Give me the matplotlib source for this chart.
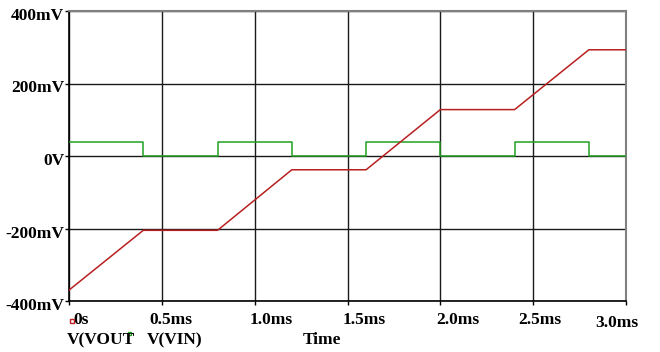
import matplotlib
matplotlib.use("Agg")
import matplotlib.pyplot as plt
from matplotlib.transforms import ScaledTranslation

# Data (time in ms, voltages in mV)
t_vout = [0.0, 0.4, 0.8, 1.2, 1.6, 2.0, 2.4, 2.8, 3.0]
v_vout = [-370, -205, -205, -38, -38, 128, 128, 293, 293]

t_vin = [0.0, 0.4, 0.4, 0.8, 0.8, 1.2, 1.2, 1.6, 1.6, 2.0, 2.0, 2.4, 2.4, 2.8, 2.8, 3.0]
v_vin = [40, 40, 0, 0, 40, 40, 0, 0, 40, 40, 0, 0, 40, 40, 0, 0]

xticks = [0, 0.5, 1.0, 1.5, 2.0, 2.5, 3.0]
xlabels = ["0s", "0.5ms", "1.0ms", "1.5ms", "2.0ms", "2.5ms", "3.0ms"]
yticks = [-400, -200, 0, 200, 400]
ylabels = ["-400mV", "-200mV", "0V", "200mV", "400mV"]

W, H = 660, 352
fig = plt.figure(figsize=(W / 100, H / 100), dpi=100)
ax = fig.add_axes([69 / W, 1 - 301 / H, (626 - 69) / W, (301 - 11) / H])

font = dict(family="Liberation Serif", weight="bold", size=12.5)

ax.plot(t_vin, v_vin, color="#22a022", lw=1.1, zorder=3)
ax.plot(t_vout, v_vout, color="#b82020", lw=1.1, zorder=4)

ax.set_xlim(0, 3.0)
ax.set_ylim(-400, 400)
ax.set_xticks(xticks)
ax.set_xticklabels(xlabels, **font)
ax.set_yticks(yticks)
ax.set_yticklabels(ylabels, **font)
ax.grid(True, color="#1a1a1a", lw=1.0)
ax.set_axisbelow(True)
ax.tick_params(axis="both", direction="out", length=3, width=1, color="black", pad=2)
ax.tick_params(axis="y", pad=0.5)

for side in ["top", "right"]:
    ax.spines[side].set_color("#808080")
    ax.spines[side].set_linewidth(1.5)
for side in ["left", "bottom"]:
    ax.spines[side].set_color("black")
    ax.spines[side].set_linewidth(1.2)

# x tick label offsets (px)
dxs = [12, 9, 16, 17, 17, 7, -9]
dys = [-4, -4, -4, -4, -4, -4, -7]
for lab, dx, dy in zip(ax.get_xticklabels(), dxs, dys):
    lab.set_transform(lab.get_transform() + ScaledTranslation(dx / 100, dy / 100, fig.dpi_scale_trans))
for lab in ax.get_yticklabels():
    lab.set_transform(lab.get_transform() + ScaledTranslation(0, -3 / 100, fig.dpi_scale_trans))

# Legend-like labels
fig.text(67 / W, 1 - 340 / H, "V(VOUT", ha="left", va="center", **font)
fig.text(147 / W, 1 - 340 / H, "V(VIN)", ha="left", va="center", **font)
fig.text(303 / W, 1 - 340 / H, "Time", ha="left", va="center", **font)
fig.patches.append(plt.Rectangle((70 / W, 1 - 323 / H), 4 / W, 4 / H, transform=fig.transFigure,
                                 fill=False, edgecolor="#c02020", lw=1))
fig.patches.append(plt.Rectangle((128 / W, 1 - 335 / H), 3 / W, 3 / H, transform=fig.transFigure,
                                 fill=False, edgecolor="#22a022", lw=1))

fig.savefig("out.png", dpi=100, facecolor="white")
